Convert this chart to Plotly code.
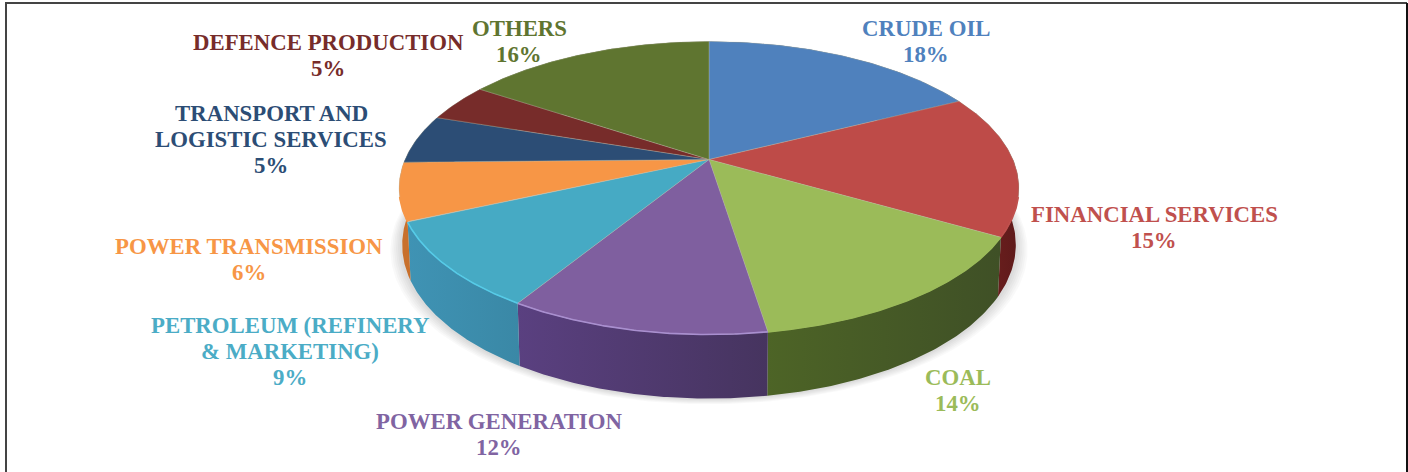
import numpy as np
import plotly.graph_objects as go

categories = ["CRUDE OIL", "FINANCIAL SERVICES", "COAL", "POWER GENERATION",
              "PETROLEUM (REFINERY|&amp; MARKETING)", "POWER TRANSMISSION",
              "TRANSPORT AND|LOGISTIC SERVICES", "DEFENCE PRODUCTION", "OTHERS"]
percent_labels = ["18%", "15%", "14%", "12%", "9%", "6%", "5%", "5%", "16%"]
# slice sizes
slice_shares = [17.6, 15.7, 14.2, 11.3, 9.5, 6.4, 5.4, 4.2, 15.7]

top_colors = ["#4f81bd", "#be4b48", "#9bbb59", "#7f5f9f", "#46aac4", "#f79646", "#2c4d75", "#772c2a", "#5f7530"]
wall_left = ["#2f4d71", "#7a2422", "#4d6426", "#5a4080", "#3f93b4", "#c8702c", "#1d3350", "#4d1c1b", "#3e4d20"]
wall_right = ["#2f4d71", "#5e1a1a", "#3f5026", "#46345f", "#3a88a6", "#c8702c", "#1d3350", "#4d1c1b", "#3e4d20"]
rim_colors = ["#4f81bd", "#c0504d", "#9bbb59", "#a98fd0", "#55cbe8", "#f79646", "#2c4d75", "#772c2a", "#5f7530"]
text_colors = ["#4f81bd", "#c0504d", "#9bbb59", "#8064a2", "#4bacc6", "#f79646", "#2c4d75", "#772c2a", "#5f7530"]
label_x = [926, 1154, 958, 499, 290, 249, 271, 328, 519]
label_y = [41, 227, 390, 434, 351, 259, 139, 55, 41]

CX, CY, RX, RY, K = 709, 159.5, 304, 141, 0.1945
LINE_GAP = 26


def top_xy(theta):
    d = 1 + K * np.cos(theta)
    return CX + RX * np.sin(theta) / d, CY - RY * np.cos(theta) / d


def low_xy(theta, grow=0.0):
    x, y = top_xy(theta)
    depth = 55 + 9 * np.maximum(0, -np.cos(theta))
    return CX + (x - CX) * (0.99 + grow), y + depth + grow * 150


edges = np.cumsum([0] + slice_shares) / sum(slice_shares) * 2 * np.pi
fig = go.Figure()

# soft shadow under the disc
ring = np.linspace(0, 2 * np.pi, 361)
for g in [0.038, 0.032, 0.026, 0.02, 0.014, 0.008]:
    sx, sy = low_xy(ring, g)
    fig.add_trace(go.Scatter(x=sx, y=sy, mode="lines", fill="toself", line=dict(width=0),
                             fillcolor="rgba(0,0,0,0.022)", hoverinfo="skip"))

# side walls, then top faces
for i in range(len(slice_shares)):
    t = np.linspace(edges[i], edges[i + 1], 80)
    tx, ty = top_xy(t)
    lx, ly = low_xy(t)
    fig.add_trace(go.Scatter(
        x=np.r_[tx, lx[::-1], tx[0]], y=np.r_[ty, ly[::-1], ty[0]],
        mode="lines", fill="toself", line=dict(width=0),
        fillgradient=dict(type="horizontal",
                          colorscale=[[0, wall_left[i]], [1, wall_right[i]]]),
        hoverinfo="skip"))

for i, name in enumerate(categories):
    t = np.linspace(edges[i], edges[i + 1], 120)
    tx, ty = top_xy(t)
    fig.add_trace(go.Scatter(
        x=np.r_[CX, tx, CX], y=np.r_[CY, ty, CY],
        mode="lines", fill="toself", fillcolor=top_colors[i],
        line=dict(width=0.6, color="rgba(190,190,170,0.55)"),
        name=name.replace("|", " "), text=percent_labels[i], hoverinfo="name+text"))

# light rim along the front edge
for i in range(len(slice_shares)):
    t = np.linspace(edges[i], edges[i + 1], 120)
    t = t[np.cos(t) < -0.25]
    if len(t):
        rx, ry = top_xy(t)
        fig.add_trace(go.Scatter(x=rx, y=ry, mode="lines", hoverinfo="skip",
                                 line=dict(width=1.6, color=rim_colors[i])))

annotations = []
for x, y, c, p, col in zip(label_x, label_y, categories, percent_labels, text_colors):
    lines = c.split("|") + [p]
    first = y - LINE_GAP * (len(lines) - 1) / 2
    for j, line in enumerate(lines):
        annotations.append(dict(
            x=x, y=first + j * LINE_GAP, xref="x", yref="y", showarrow=False,
            text=f"<b>{line}</b>",
            font=dict(family="Liberation Serif", size=22.8, color=col)))

frame = dict(type="line", xref="x", yref="y")
shapes = [
    {**frame, "x0": 6, "x1": 6, "y0": 3, "y1": 472, "line": dict(color="#444444", width=2)},
    {**frame, "x0": 5, "x1": 1407, "y0": 3, "y1": 3, "line": dict(color="#444444", width=2)},
    {**frame, "x0": 1407, "x1": 1407, "y0": 3, "y1": 472, "line": dict(color="#111111", width=2)},
]

fig.update_layout(
    width=1408, height=472, margin=dict(l=0, r=0, t=0, b=0), showlegend=False,
    paper_bgcolor="white", plot_bgcolor="white",
    xaxis=dict(range=[0, 1408], visible=False, fixedrange=True),
    yaxis=dict(range=[472, 0], visible=False, fixedrange=True),
    annotations=annotations, shapes=shapes,
)

fig.write_html("out.html", config=dict(displayModeBar=False),
               post_script="document.body.style.margin='0';document.body.style.overflow='hidden';")
